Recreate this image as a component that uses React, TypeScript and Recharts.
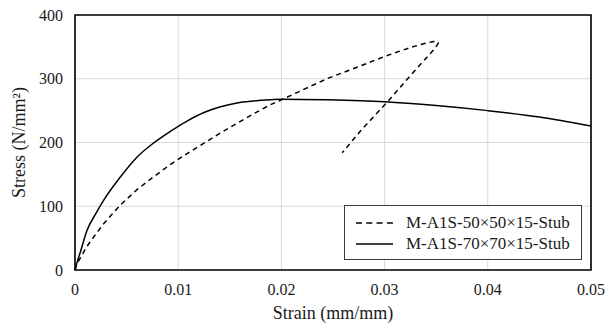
import React from "react";
import {
  LineChart,
  Line,
  XAxis,
  YAxis,
  CartesianGrid,
  ReferenceArea,
  Label,
} from "recharts";

// Strain (mm/mm) / stress (N/mm²) for M-A1S-50×50×15-Stub (dashed, with unloading branch)
const strain50 = [
  0, 0.0002, 0.00116, 0.002, 0.0028, 0.0044, 0.006, 0.0076, 0.0092, 0.0109,
  0.0125, 0.0141, 0.0157, 0.0173, 0.0189, 0.02, 0.022, 0.0244, 0.027, 0.03,
  0.0325, 0.0338, 0.0346, 0.035, 0.0352, 0.0349, 0.0325, 0.0304, 0.0276, 0.0259,
];
const stress50 = [
  0, 10, 37, 56, 73, 102, 126, 146, 165, 183, 199, 215, 230, 245, 259, 267, 282,
  300, 316, 335, 349, 355, 358, 359, 356, 348, 305, 266, 217, 184,
];

// Strain / stress for M-A1S-70×70×15-Stub (solid)
const strain70 = [
  0, 0.0002, 0.0005, 0.00116, 0.002, 0.0028, 0.0044, 0.006, 0.0076, 0.0092,
  0.0109, 0.0125, 0.0141, 0.0157, 0.0173, 0.0189, 0.02, 0.0244, 0.03,
  0.035, 0.04, 0.045, 0.05,
];
const stress70 = [
  0, 12, 27, 62, 88, 110, 146, 177, 199, 217, 234, 247, 256, 262, 265, 267,
  268, 267, 264, 258, 250, 240, 226,
];

const seriesNames = ["M-A1S-50×50×15-Stub", "M-A1S-70×70×15-Stub"];
const xTicks = [0, 0.01, 0.02, 0.03, 0.04, 0.05];
const yTicks = [0, 100, 200, 300, 400];
const xTitle = "Strain (mm/mm)";
const yTitle = "Stress (N/mm²)";

const data50 = strain50.map((x, i) => ({ x, y: stress50[i] }));
const data70 = strain70.map((x, i) => ({ x, y: stress70[i] }));

const FONT = '"Liberation Serif", "Times New Roman", serif';
const TEXT = "#1a1a1a";
const DASH = "5 4";
const legendDashes = ["6 4.3", undefined];

const LegendBox = () => (
  <div
    style={{
      position: "absolute",
      left: 344,
      top: 205,
      border: "1px solid #3a3a3a",
      background: "#fff",
      boxSizing: "border-box",
      width: 238,
      height: 55,
      paddingTop: 6,
      fontFamily: FONT,
      fontSize: 17,
      color: TEXT,
    }}
  >
    {seriesNames.map((name, i) => (
      <div key={name} style={{ display: "flex", alignItems: "center", height: 21 }}>
        <svg width={50} height={10} style={{ marginLeft: 11 }}>
          <line
            x1={0}
            y1={5}
            x2={37}
            y2={5}
            stroke="#000"
            strokeWidth={1.5}
            strokeDasharray={legendDashes[i]}
          />
        </svg>
        <span style={{ whiteSpace: "nowrap" }}>{name}</span>
      </div>
    ))}
  </div>
);

const XTick = (props: any) => (
  <text
    x={props.x}
    y={props.y}
    dy="0.71em"
    textAnchor="middle"
    style={{ fontFamily: FONT, fontSize: 16, fill: TEXT }}
  >
    {String(props.payload.value)}
  </text>
);

const YTick = (props: any) => (
  <text
    x={props.x}
    y={props.y}
    dy="0.355em"
    textAnchor="end"
    style={{ fontFamily: FONT, fontSize: 16, fill: TEXT }}
  >
    {String(props.payload.value)}
  </text>
);

const XTitle = (props: any) => {
  const vb = props.viewBox || { x: 75, y: 270, width: 516, height: 57 };
  return (
    <text
      x={vb.x + vb.width / 2}
      y={vb.y + 49}
      textAnchor="middle"
      style={{ fontFamily: FONT, fontSize: 18, fill: TEXT }}
    >
      {xTitle}
    </text>
  );
};

const YTitle = (props: any) => {
  const vb = props.viewBox || { x: 0, y: 15, width: 75, height: 255 };
  const cx = vb.x + 25;
  const cy = vb.y + vb.height / 2;
  return (
    <text
      x={cx}
      y={cy}
      transform={`rotate(-90 ${cx} ${cy})`}
      textAnchor="middle"
      style={{ fontFamily: FONT, fontSize: 18, fill: TEXT }}
    >
      {yTitle}
    </text>
  );
};

export default function App() {
  return (
    <div
      style={{
        position: "absolute",
        left: 0,
        top: 0,
        width: 607,
        height: 327,
        background: "#fff",
        fontFamily: FONT,
      }}
    >
      <LineChart
        width={607}
        height={327}
        margin={{ top: 15, right: 16, bottom: 0, left: 0 }}
        style={{ fontFamily: FONT }}
      >
        <CartesianGrid stroke="#d9d9d9" strokeWidth={1} />
        <XAxis
          type="number"
          dataKey="x"
          domain={[0, 0.05]}
          ticks={xTicks}
          height={57}
          axisLine={false}
          tickLine={false}
          tickSize={12}
          tickMargin={2}
          tick={<XTick />}
          interval={0}
        >
          <Label content={<XTitle />} />
        </XAxis>
        <YAxis
          type="number"
          dataKey="y"
          domain={[0, 400]}
          ticks={yTicks}
          width={75}
          axisLine={false}
          tickLine={false}
          tickSize={10}
          tickMargin={2}
          tick={<YTick />}
          interval={0}
        >
          <Label content={<YTitle />} />
        </YAxis>
        <ReferenceArea
          x1={0}
          x2={0.05}
          y1={0}
          y2={400}
          fill="none"
          stroke="#000"
          strokeWidth={1.6}
        />
        <Line
          data={data50}
          dataKey="y"
          name={seriesNames[0]}
          type="linear"
          stroke="#000"
          strokeWidth={1.5}
          strokeDasharray={DASH}
          dot={false}
          isAnimationActive={false}
        />
        <Line
          data={data70}
          dataKey="y"
          name={seriesNames[1]}
          type="monotone"
          stroke="#000"
          strokeWidth={1.5}
          dot={false}
          isAnimationActive={false}
        />
      </LineChart>
      <LegendBox />
    </div>
  );
}
